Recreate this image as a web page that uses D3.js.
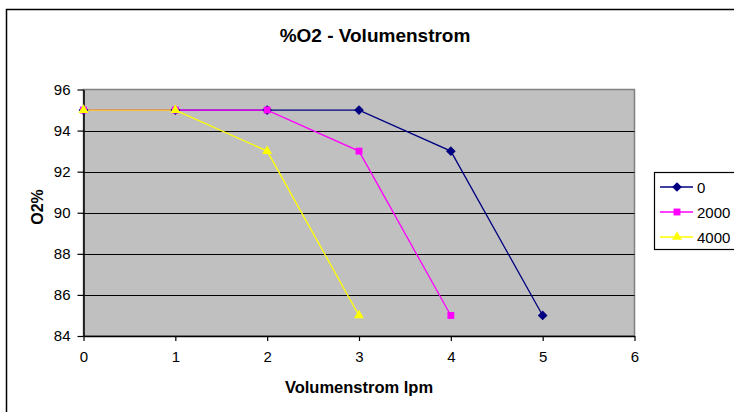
<!DOCTYPE html>
<html lang="de">
<head>
    <meta charset="UTF-8">
    <title>%O2 - Volumenstrom</title>
    <script src="https://cdn.jsdelivr.net/npm/d3@7"></script>
    <style>
        body {
            margin: 0;
            background-color: white;
            font-family: "Liberation Sans", Arial, sans-serif;
        }
        .tick text {
            font-size: 15px;
            fill: black;
        }
    </style>
</head>
<body>
    <svg id="main" width="734" height="412"></svg>
    <script>
        // data
        let volumenstrom_0 = [0, 1, 2, 3, 4, 5];
        let o2_0 = [95, 95, 95, 95, 93, 85];
        let volumenstrom_2000 = [0, 1, 2, 3, 4];
        let o2_2000 = [95, 95, 95, 93, 85];
        let volumenstrom_4000 = [0, 1, 2, 3];
        let o2_4000 = [95, 95, 93, 85];
        let seriesNames = ["0", "2000", "4000"];
        let xTicks = [0, 1, 2, 3, 4, 5, 6];
        let yTicks = [84, 86, 88, 90, 92, 94, 96];

        let series = [
            {name: seriesNames[0], x: volumenstrom_0, y: o2_0, color: "#000080", sym: d3.symbolDiamond2},
            {name: seriesNames[1], x: volumenstrom_2000, y: o2_2000, color: "#ff00ff", sym: d3.symbolSquare2},
            {name: seriesNames[2], x: volumenstrom_4000, y: o2_4000, color: "#ffff00", sym: d3.symbolTriangle2}
        ];

        let svg = d3.select("#main");
        let pLeft = 83.5, pRight = 634.5, pTop = 89.5, pBottom = 336;

        // outer chart frame (runs off the right / bottom edge)
        svg.append("rect")
            .attr("x", 6.5).attr("y", 9.5)
            .attr("width", 760).attr("height", 440)
            .attr("fill", "white").attr("stroke", "black").attr("stroke-width", 1.5);

        let x = d3.scaleLinear().domain([0, 6]).range([pLeft, pRight]);
        let y = d3.scaleLinear().domain([84, 96]).range([pBottom, pTop]);

        // plot area
        svg.append("rect")
            .attr("x", pLeft).attr("y", pTop)
            .attr("width", pRight - pLeft).attr("height", pBottom - pTop)
            .attr("fill", "#c0c0c0").attr("stroke", "#808080").attr("stroke-width", 1.5);

        // gridlines
        svg.append("g")
            .selectAll("line")
            .data(yTicks.slice(1, -1))
            .enter()
            .append("line")
            .attr("x1", pLeft).attr("x2", pRight)
            .attr("y1", d => Math.round(y(d)) + 0.5).attr("y2", d => Math.round(y(d)) + 0.5)
            .attr("stroke", "black").attr("stroke-width", 1.2);

        // axes
        let xAxis = svg.append("g")
            .attr("transform", "translate(0," + pBottom + ")")
            .call(d3.axisBottom(x).tickValues(xTicks).tickFormat(d3.format("d"))
                .tickSize(5).tickPadding(10).tickSizeOuter(0));
        let yAxis = svg.append("g")
            .attr("transform", "translate(" + pLeft + ",0)")
            .call(d3.axisLeft(y).tickValues(yTicks).tickFormat(d3.format("d"))
                .tickSize(6).tickPadding(7).tickSizeOuter(0));
        [xAxis, yAxis].forEach(a => {
            a.select(".domain").attr("stroke", "black").attr("stroke-width", 1.5);
            a.selectAll(".tick line").attr("stroke", "black").attr("stroke-width", 1.2);
            a.attr("font-family", null).attr("font-size", null);
        });
        xAxis.selectAll(".tick text").attr("dy", "0.71em");

        // series lines + markers
        let line = d3.line().x(d => x(d[0])).y(d => y(d[1]));
        series.forEach(s => {
            let pts = d3.zip(s.x, s.y);
            svg.append("path")
                .datum(pts)
                .attr("d", line)
                .attr("fill", "none")
                .attr("stroke", s.color)
                .attr("stroke-width", 1.3);
        });
        series.forEach(s => {
            let pts = d3.zip(s.x, s.y);
            svg.append("g")
                .selectAll("path")
                .data(pts)
                .enter()
                .append("path")
                .attr("transform", d => "translate(" + x(d[0]) + "," + y(d[1]) + ")")
                .attr("d", d3.symbol().type(s.sym).size(s.sym === d3.symbolTriangle2 ? 70 : 60))
                .attr("fill", s.color);
        });

        // titles
        svg.append("text")
            .attr("x", 375).attr("y", 42)
            .attr("text-anchor", "middle")
            .attr("font-size", 19).attr("font-weight", "bold")
            .text("%O2 - Volumenstrom");
        svg.append("text")
            .attr("x", (pLeft + pRight) / 2).attr("y", 393)
            .attr("text-anchor", "middle")
            .attr("font-size", 16.5).attr("font-weight", "bold")
            .text("Volumenstrom lpm");
        svg.append("text")
            .attr("transform", "translate(43,207) rotate(-90)")
            .attr("text-anchor", "middle")
            .attr("font-size", 16).attr("font-weight", "bold")
            .text("O2%");

        // legend
        let legend = svg.append("g");
        legend.append("rect")
            .attr("x", 654.5).attr("y", 172.5)
            .attr("width", 100).attr("height", 77)
            .attr("fill", "white").attr("stroke", "black").attr("stroke-width", 1.2);
        series.forEach((s, i) => {
            let ly = 187 + i * 25;
            legend.append("line")
                .attr("x1", 660).attr("x2", 693)
                .attr("y1", ly).attr("y2", ly)
                .attr("stroke", s.color).attr("stroke-width", 1.3);
            legend.append("path")
                .attr("transform", "translate(677," + ly + ")")
                .attr("d", d3.symbol().type(s.sym).size(s.sym === d3.symbolTriangle2 ? 70 : 60))
                .attr("fill", s.color);
            legend.append("text")
                .attr("x", 697).attr("y", ly + 5.5)
                .attr("font-size", 15)
                .text(s.name);
        });
    </script>
</body>
</html>
